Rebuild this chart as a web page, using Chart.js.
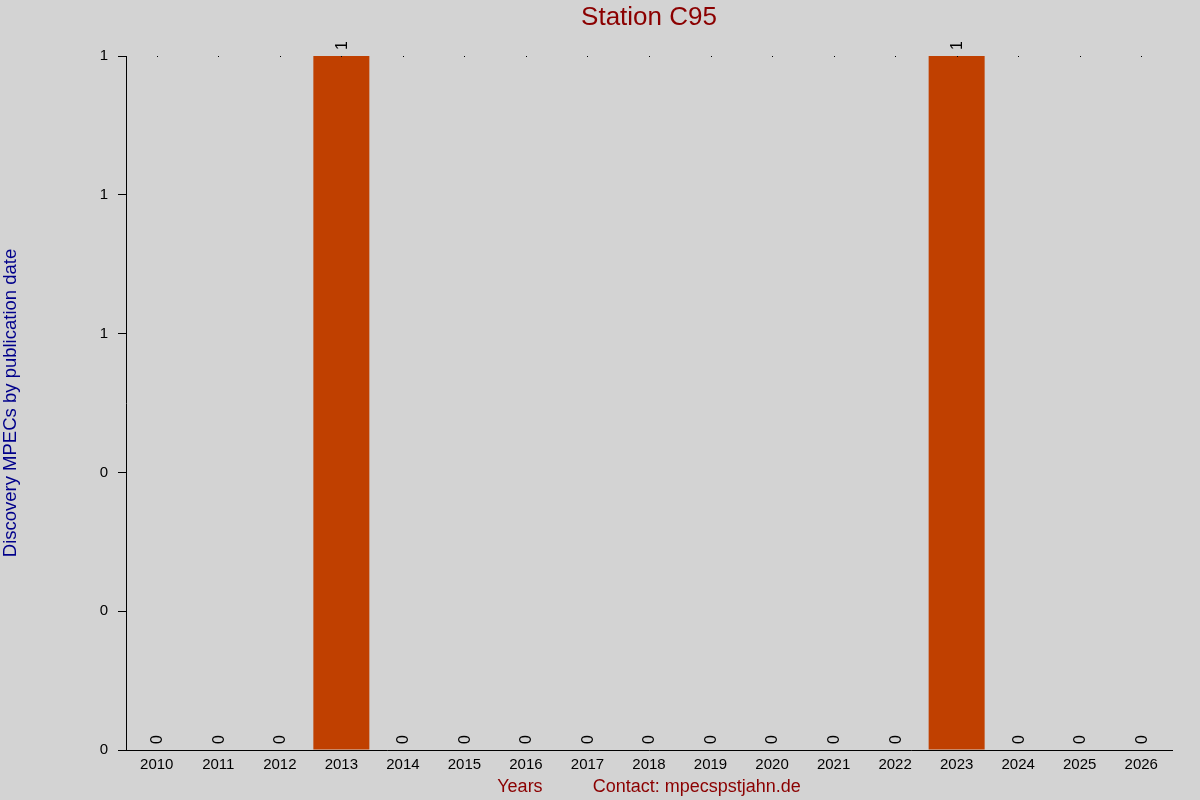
<!DOCTYPE html>
<html>
<head>
<meta charset="utf-8">
<script src="https://cdn.jsdelivr.net/npm/chart.js@4/dist/chart.umd.min.js"></script>
<style>
html,body{margin:0;padding:0;background:#d3d3d3;}
canvas{display:block;}
</style>
</head>
<body>
<canvas id="c" width="1200" height="800"></canvas>
<script>
const years = ['2010','2011','2012','2013','2014','2015','2016','2017','2018','2019','2020','2021','2022','2023','2024','2025','2026'];
const counts = [0,0,0,1,0,0,0,0,0,0,0,0,0,1,0,0,0];
const chartTitle = 'Station C95';
const yTitle = 'Discovery MPECs by publication date';
const xTitle = 'Years          Contact: mpecspstjahn.de';

const FONT = '"Liberation Sans", Arial, sans-serif';

const bgPlugin = {
  id: 'bg',
  beforeDraw(chart) {
    const ctx = chart.ctx;
    ctx.save();
    ctx.fillStyle = '#d3d3d3';
    ctx.fillRect(0, 0, chart.width, chart.height);
    ctx.restore();
  }
};

const titlePlugin = {
  id: 'ctitle',
  afterDraw(chart) {
    const ctx = chart.ctx;
    const a = chart.chartArea;
    ctx.save();
    ctx.font = '26px ' + FONT;
    ctx.fillStyle = '#8b0000';
    ctx.textAlign = 'center';
    ctx.textBaseline = 'middle';
    ctx.fillText(chartTitle, (a.left + a.right) / 2, 18);
    ctx.restore();
  }
};

const labelPlugin = {
  id: 'vlabels',
  afterDatasetsDraw(chart) {
    const ctx = chart.ctx;
    const meta = chart.getDatasetMeta(0);
    const xs = chart.scales.x;
    const top = chart.chartArea.top;
    ctx.save();
    ctx.fillStyle = '#000';
    years.forEach((y, i) => {
      const px = Math.round(xs.getPixelForValue(i));
      ctx.fillRect(px, top, 1, 1);
    });
    ctx.font = '16px ' + FONT;
    ctx.fillStyle = '#000';
    ctx.textAlign = 'left';
    ctx.textBaseline = 'middle';
    meta.data.forEach((bar, i) => {
      ctx.save();
      ctx.translate(bar.x + 1, bar.y - 6);
      ctx.rotate(-Math.PI / 2);
      ctx.fillText(String(counts[i]), 0, 0);
      ctx.restore();
    });
    ctx.restore();
  }
};

new Chart(document.getElementById('c'), {
  type: 'bar',
  data: {
    labels: years,
    datasets: [{
      data: counts,
      backgroundColor: '#c04000',
      borderWidth: 0,
      categoryPercentage: 1.0,
      barPercentage: 0.91
    }]
  },
  options: {
    responsive: false,
    animation: false,
    devicePixelRatio: 1,
    layout: { padding: { left: 0, right: 28, top: 56, bottom: 0 } },
    plugins: {
      legend: { display: false },
      tooltip: { enabled: false },
      title: { display: false }
    },
    scales: {
      x: {
        afterFit(s) { s.height = 50; },
        border: { display: true, color: '#000', width: 1 },
        grid: { display: true, drawOnChartArea: false, drawTicks: false, color: 'rgba(0,0,0,0)' },
        ticks: { color: '#000', font: { family: FONT, size: 15 }, padding: 6, maxRotation: 0, autoSkip: false },
        title: {
          display: true,
          text: xTitle,
          color: '#8b0000',
          font: { family: FONT, size: 18 },
          padding: { top: 0, bottom: 2 }
        }
      },
      y: {
        min: 0,
        max: 1,
        afterFit(s) { s.width = 126; },
        border: { display: true, color: '#000', width: 1 },
        grid: { display: true, drawOnChartArea: false, drawTicks: true, tickLength: 8, color: '#000' },
        ticks: {
          stepSize: 0.2,
          color: '#000',
          font: { family: FONT, size: 15 },
          padding: 10,
          callback: (v) => String(Math.round(v))
        },
        title: {
          display: true,
          text: yTitle,
          color: '#00008b',
          font: { family: FONT, size: 18.5 },
          padding: { top: 0, bottom: 0 }
        }
      }
    }
  },
  plugins: [bgPlugin, labelPlugin, titlePlugin]
});
</script>
</body>
</html>
